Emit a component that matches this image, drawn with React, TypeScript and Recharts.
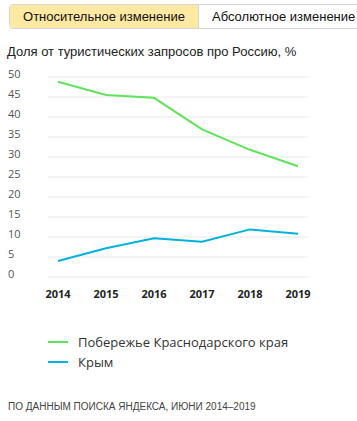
import { LineChart, Line, XAxis, YAxis, CartesianGrid } from "recharts";

const years = ["2014", "2015", "2016", "2017", "2018", "2019"];
const krasnodar = [48.8, 45.5, 44.8, 36.9, 31.8, 27.7];
const crimea = [4.0, 7.2, 9.7, 8.8, 11.9, 10.8];
const yTicks = [0, 5, 10, 15, 20, 25, 30, 35, 40, 45, 50];

const GREEN = "#5fe35a";
const BLUE = "#00b3de";
const SANS = "Arial, 'Liberation Sans', Helvetica, sans-serif";
const OPEN = "'Open Sans', 'Noto Sans', sans-serif";

const series = [
  { key: "krasnodar", name: "Побережье Краснодарского края", color: GREEN },
  { key: "crimea", name: "Крым", color: BLUE },
];

const chartData = years.map((y, i) => ({
  year: y,
  krasnodar: krasnodar[i],
  crimea: crimea[i],
}));

function YTick(props: any) {
  const { y, payload } = props;
  return (
    <text
      x={8}
      y={y - 3.5}
      dominantBaseline="central"
      textAnchor="start"
      fontFamily={OPEN}
      fontSize={11}
      fill="#555"
    >
      {payload.value}
    </text>
  );
}

function XTick(props: any) {
  const { x, y, payload } = props;
  return (
    <text
      x={x}
      y={y + 16}
      dominantBaseline="central"
      textAnchor="middle"
      fontFamily={OPEN}
      fontWeight={700}
      fontSize={11}
      fill="#222"
    >
      {payload.value}
    </text>
  );
}

export default function App() {
  return (
    <div
      style={{
        position: "absolute",
        top: 0,
        left: 0,
        width: 357,
        height: 421,
        background: "#fff",
        overflow: "hidden",
      }}
    >
      {/* switcher */}
      <div
        style={{
          position: "absolute",
          top: 4,
          left: 9,
          width: 370,
          height: 25,
          border: "1px solid #d6d6d6",
          borderRadius: 4,
          display: "flex",
          fontFamily: SANS,
          fontSize: 13,
          color: "#111",
          overflow: "hidden",
          boxSizing: "border-box",
        }}
      >
        <div
          style={{
            width: 188,
            background: "#fde9a2",
            borderRight: "1px solid #d6d6d6",
            display: "flex",
            alignItems: "center",
            justifyContent: "center",
          }}
        >
          Относительное изменение
        </div>
        <div
          style={{
            paddingLeft: 13,
            display: "flex",
            alignItems: "center",
            whiteSpace: "nowrap",
          }}
        >
          Абсолютное изменение
        </div>
      </div>

      <div
        style={{
          position: "absolute",
          top: 44,
          left: 7,
          fontFamily: SANS,
          fontSize: 13,
          color: "#222",
          whiteSpace: "nowrap",
        }}
      >
        Доля от туристических запросов про Россию, %
      </div>

      <div style={{ position: "absolute", top: 0, left: 0 }}>
        <LineChart
          width={357}
          height={310}
          data={chartData}
          margin={{ top: 77, right: 49, left: 8, bottom: 3 }}
        >
          <CartesianGrid vertical={false} stroke="#e9e9e9" strokeWidth={1} />
          <XAxis
            dataKey="year"
            axisLine={false}
            tickLine={false}
            tickSize={0}
            tickMargin={0}
            height={30}
            padding={{ left: 10, right: 10 }}
            tick={<XTick />}
            interval={0}
          />
          <YAxis
            domain={[0, 50]}
            ticks={yTicks}
            axisLine={false}
            tickLine={false}
            width={40}
            tick={<YTick />}
            interval={0}
          />
          {series.map((s) => (
            <Line
              key={s.key}
              type="linear"
              dataKey={s.key}
              name={s.name}
              stroke={s.color}
              strokeWidth={2}
              dot={false}
              activeDot={false}
              isAnimationActive={false}
            />
          ))}
        </LineChart>
      </div>

      {/* legend */}
      <div style={{ position: "absolute", top: 332, left: 48 }}>
        {series.map((s) => (
          <div
            key={s.key}
            style={{ display: "flex", alignItems: "center", height: 20 }}
          >
            <div style={{ width: 20, height: 2, background: s.color }} />
            <span
              style={{
                marginLeft: 10,
                fontFamily: OPEN,
                fontSize: 13,
                color: "#333",
                whiteSpace: "nowrap",
              }}
            >
              {s.name}
            </span>
          </div>
        ))}
      </div>

      <div
        style={{
          position: "absolute",
          top: 401,
          left: 8,
          fontFamily: SANS,
          fontSize: 10,
          color: "#444",
          whiteSpace: "nowrap",
        }}
      >
        ПО ДАННЫМ ПОИСКА ЯНДЕКСА, ИЮНИ 2014–2019
      </div>
    </div>
  );
}
